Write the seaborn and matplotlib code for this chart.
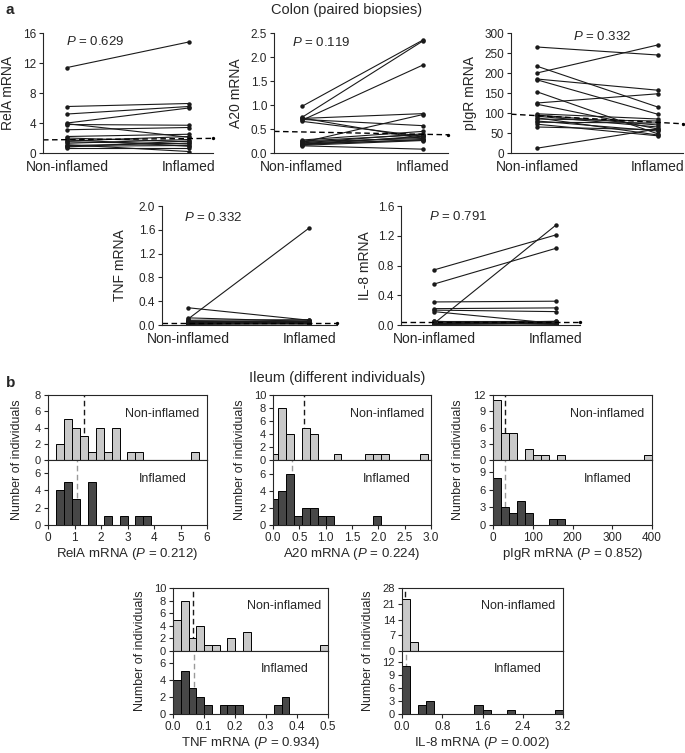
import numpy as np
import pandas as pd
import matplotlib
matplotlib.use("Agg")
import matplotlib.pyplot as plt
import seaborn as sns

# ================= Data: (a) colon, paired biopsies =================
pair_groups = ["Non-inflamed", "Inflamed"]

rela_non = [11.4, 6.2, 5.2, 4.0, 3.9, 3.8, 3.1, 2.2, 2.0, 1.8, 1.6, 1.5, 1.3, 1.1, 1.0, 0.9, 0.8, 0.7]
rela_inf = [14.8, 6.6, 6.2, 6.0, 2.1, 3.7, 3.4, 2.5, 1.5, 0.9, 2.2, 1.2, 1.8, 0.2, 1.3, 1.0, 1.6, 0.7]
rela_ref = [1.75, 1.95]

a20_non = [0.97, 0.74, 0.68, 0.72, 0.70, 0.66, 0.73, 0.27, 0.25, 0.22, 0.20, 0.18, 0.16, 0.15, 0.24, 0.17, 0.21, 0.19]
a20_inf = [2.35, 2.33, 1.83, 0.82, 0.57, 0.35, 0.30, 0.45, 0.38, 0.80, 0.33, 0.28, 0.26, 0.08, 0.30, 0.35, 0.40, 0.27]
a20_ref = [0.45, 0.38]

pigr_non = [265, 200, 217, 185, 183, 153, 125, 122, 98, 95, 92, 88, 85, 80, 77, 72, 65, 12]
pigr_inf = [245, 270, 115, 157, 97, 48, 148, 60, 85, 70, 65, 45, 80, 55, 75, 43, 58, 60]
pigr_ref = [97, 73]

tnf_non = [0.10, 0.29, 0.12, 0.08, 0.06, 0.05, 0.04, 0.04, 0.03, 0.03, 0.02, 0.02, 0.05, 0.06, 0.03, 0.01, 0.04, 0.07]
tnf_inf = [1.63, 0.08, 0.06, 0.09, 0.05, 0.04, 0.06, 0.03, 0.05, 0.02, 0.04, 0.03, 0.02, 0.07, 0.04, 0.02, 0.05, 0.03]
tnf_ref = [0.04, 0.04]

il8_non = [0.74, 0.55, 0.02, 0.31, 0.22, 0.20, 0.18, 0.05, 0.03, 0.02, 0.01, 0.04, 0.03, 0.01, 0.02, 0.05, 0.01, 0.03]
il8_inf = [1.21, 1.03, 1.34, 0.32, 0.23, 0.18, 0.02, 0.05, 0.03, 0.04, 0.02, 0.01, 0.03, 0.02, 0.05, 0.01, 0.04, 0.03]
il8_ref = [0.045, 0.045]

pvals_a = {"RelA": "0.629", "A20": "0.119", "pIgR": "0.332", "TNF": "0.332", "IL-8": "0.791"}

# ================= Data: (b) ileum, histogram counts per bin =================
# bins: first left edge, bin width; counts for non-inflamed / inflamed; medians
rela_bin0, rela_binw = 0.3, 0.3
rela_h_non = [2, 5, 4, 3, 1, 4, 1, 4, 0, 1, 1, 0, 0, 0, 0, 0, 0, 1]
rela_h_inf = [4, 5, 3, 0, 5, 0, 1, 0, 1, 0, 1, 1, 0, 0, 0, 0, 0, 0]
rela_med = [1.35, 1.08]

a20_bin0, a20_binw = -0.05, 0.15
a20_h_non = [1, 8, 4, 0, 5, 4, 0, 0, 1, 0, 0, 0, 1, 1, 1, 0, 0, 0, 0, 1]
a20_h_inf = [3, 4, 6, 1, 2, 2, 1, 1, 0, 0, 0, 0, 0, 1, 0, 0, 0, 0, 0, 0]
a20_med = [0.59, 0.37]

pigr_bin0, pigr_binw = 0, 20
pigr_h_non = [11, 5, 5, 0, 2, 1, 1, 0, 1, 0, 0, 0, 0, 0, 0, 0, 0, 0, 0, 1]
pigr_h_inf = [8, 3, 2, 4, 2, 0, 0, 1, 1, 0, 0, 0, 0, 0, 0, 0, 0, 0, 0, 0]
pigr_med = [29, 31]

tnf_bin0, tnf_binw = 0, 0.025
tnf_h_non = [5, 8, 2, 4, 1, 1, 0, 2, 0, 3, 0, 0, 0, 0, 0, 0, 0, 0, 0, 1]
tnf_h_inf = [4, 5, 3, 2, 1, 0, 1, 1, 1, 0, 0, 0, 0, 1, 2, 0, 0, 0, 0, 0]
tnf_med = [0.064, 0.069]

il8_bin0, il8_binw = 0, 0.16
il8_h_non = [23, 4, 0, 0, 0, 0, 0, 0, 0, 0, 0, 0, 0, 0, 0, 0, 0, 0, 0, 0]
il8_h_inf = [11, 0, 2, 3, 0, 0, 0, 0, 0, 2, 1, 0, 0, 1, 0, 0, 0, 0, 0, 1]
il8_med = [0.06, 0.08]

pvals_b = {"RelA": "0.212", "A20": "0.224", "pIgR": "0.852", "TNF": "0.934", "IL-8": "0.002"}

# ================= Style =================
sns.set_style("ticks")
plt.rcParams["font.family"] = ["Liberation Sans", "DejaVu Sans"]
plt.rcParams["mathtext.fontset"] = "custom"
plt.rcParams["mathtext.rm"] = "Liberation Sans"
plt.rcParams["mathtext.it"] = "Liberation Sans:italic"
plt.rcParams["axes.linewidth"] = 0.8

W, H = 685, 753
fig = plt.figure(figsize=(W / 100, H / 100), dpi=100)
fig.patch.set_facecolor("white")


def px_axes(left, top, right, bottom):
    return fig.add_axes([left / W, 1 - bottom / H, (right - left) / W, (bottom - top) / H])


LIGHT = "#c9c9c9"
DARK = "#474747"


def paired_panel(box, xlim, gene, non, inf, ref, yticks, yfmt, ptxt_pos, ylab_x):
    ax = px_axes(*box)
    n = len(non)
    df = pd.DataFrame({
        "patient": list(range(n)) * 2,
        "pos": [0] * n + [1] * n,
        "mRNA": list(non) + list(inf),
    })
    sns.lineplot(data=df, x="pos", y="mRNA", units="patient", estimator=None,
                 color="#1a1a1a", linewidth=0.8, marker="o", markersize=3.2,
                 markeredgewidth=0, legend=False, ax=ax)
    sns.lineplot(x=list(xlim), y=ref, color="black", linewidth=1.0,
                 linestyle=(0, (4, 2.5)), ax=ax)
    ax.plot(xlim[1], ref[1], "o", color="black", ms=2.4, mew=0, clip_on=False)
    ax.set_xlim(*xlim)
    ax.set_ylim(yticks[0], yticks[-1])
    ax.set_yticks(yticks)
    ax.set_yticklabels([yfmt.format(t) for t in yticks], fontsize=8.5)
    ax.set_xticks([0, 1])
    ax.set_xticklabels(pair_groups, fontsize=10)
    ax.tick_params(axis="x", length=0, pad=5)
    ax.tick_params(axis="y", length=3, width=0.8, pad=2)
    ax.set_xlabel("")
    ax.set_ylabel(f"{gene} mRNA", fontsize=10)
    ax.yaxis.set_label_coords(ylab_x, 0.5)
    sns.despine(ax=ax)
    ax.text(ptxt_pos[0], ptxt_pos[1], rf"$P$ = {pvals_a[gene]}", transform=ax.transAxes,
            ha="center", va="center", fontsize=9.5)
    return ax


def hist_panel(box, gene, bin0, binw, c_non, c_inf, med, xticks, xfmt,
               ytop, yt_top, ybot, yt_bot, ylab_x):
    left, top, right, bottom = box
    mid = (top + bottom) / 2
    ax_u = px_axes(left, top, right, mid)
    ax_l = px_axes(left, mid, right, bottom)
    edges = [bin0 + binw * i for i in range(len(c_non) + 1)]
    centers = [e + binw / 2 for e in edges[:-1]]
    for ax, counts, col, m, mcol, lab in [
        (ax_u, c_non, LIGHT, med[0], "#1a1a1a", "Non-inflamed"),
        (ax_l, c_inf, DARK, med[1], "#9a9a9a", "Inflamed"),
    ]:
        ax.axvline(m, color=mcol, linewidth=1.0, linestyle=(0, (4, 2.5)), zorder=0.5)
        hdf = pd.DataFrame({"mRNA": centers, "n": counts})
        sns.histplot(data=hdf, x="mRNA", weights="n", bins=edges, color=col, edgecolor="black",
                     linewidth=0.7, alpha=1, ax=ax, zorder=1)
        ax.set_xlim(xticks[0], xticks[-1])
        ax.set_ylabel("")
        ax.text(0.72, 0.71, lab, transform=ax.transAxes, ha="center", va="center", fontsize=9)
        for s in ax.spines.values():
            s.set_visible(True)
            s.set_linewidth(0.8)
        ax.tick_params(axis="y", length=3, width=0.8, pad=2, labelsize=8)
    ax_u.set_ylim(0, ytop)
    ax_u.set_yticks(yt_top)
    ax_u.set_xticks([])
    ax_u.set_xlabel("")
    ax_l.set_ylim(0, ybot)
    ax_l.set_yticks(yt_bot)
    ax_l.set_xticks(xticks)
    ax_l.set_xticklabels([xfmt.format(t) for t in xticks], fontsize=8.5)
    ax_l.tick_params(axis="x", length=3, width=0.8, pad=2)
    ax_l.set_xlabel(rf"{gene} mRNA ($P$ = {pvals_b[gene]})", fontsize=9.5, labelpad=1.5)
    fig.text(ylab_x / W, 1 - mid / H, "Number of individuals", rotation=90,
             ha="center", va="center", fontsize=9)


# ================= Panel a =================
fig.text(5 / W, 1 - 10 / H, "a", fontsize=11, fontweight="bold", ha="left", va="center")
fig.text(347 / W, 1 - 10 / H, "Colon (paired biopsies)", fontsize=10.5, ha="center", va="center")

paired_panel((43, 33, 213, 153), (-0.2, 1.2), "RelA", rela_non, rela_inf, rela_ref,
             [0, 4, 8, 12, 16], "{:g}", (0.31, 0.93), -0.165)
paired_panel((274, 33, 448, 153), (-0.23, 1.21), "A20", a20_non, a20_inf, a20_ref,
             [0, 0.5, 1.0, 1.5, 2.0, 2.5], "{:.1f}", (0.27, 0.92), -0.18)
paired_panel((511, 33, 683, 153), (-0.215, 1.21), "pIgR", pigr_non, pigr_inf, pigr_ref,
             [0, 50, 100, 150, 200, 250, 300], "{:g}", (0.53, 0.97), -0.2)
paired_panel((162, 206, 337, 325), (-0.215, 1.23), "TNF", tnf_non, tnf_inf, tnf_ref,
             [0, 0.4, 0.8, 1.2, 1.6, 2.0], "{:.1f}", (0.29, 0.9), -0.2)
paired_panel((401, 206, 580, 325), (-0.27, 1.2), "IL-8", il8_non, il8_inf, il8_ref,
             [0, 0.4, 0.8, 1.2, 1.6], "{:.1f}", (0.32, 0.91), -0.16)

# ================= Panel b =================
fig.text(6 / W, 1 - 383 / H, "b", fontsize=11, fontweight="bold", ha="left", va="center")
fig.text(337 / W, 1 - 378 / H, "Ileum (different individuals)", fontsize=10.5,
         ha="center", va="center")

hist_panel((48, 395, 207, 525), "RelA", rela_bin0, rela_binw, rela_h_non, rela_h_inf, rela_med,
           [0, 1, 2, 3, 4, 5, 6], "{:g}", 8, [0, 2, 4, 6, 8], 7.5, [0, 2, 4, 6], 17)
hist_panel((273, 395, 431, 525), "A20", a20_bin0, a20_binw, a20_h_non, a20_h_inf, a20_med,
           [0, 0.5, 1.0, 1.5, 2.0, 2.5, 3.0], "{:.1f}", 10, [0, 2, 4, 6, 8, 10], 7.6, [0, 2, 4, 6], 240)
hist_panel((493, 395, 652, 525), "pIgR", pigr_bin0, pigr_binw, pigr_h_non, pigr_h_inf, pigr_med,
           [0, 100, 200, 300, 400], "{:g}", 12, [0, 3, 6, 9, 12], 11, [0, 3, 6, 9], 458)
hist_panel((173, 588, 328, 714), "TNF", tnf_bin0, tnf_binw, tnf_h_non, tnf_h_inf, tnf_med,
           [0, 0.1, 0.2, 0.3, 0.4, 0.5], "{:.1f}", 10, [0, 2, 4, 6, 8, 10], 7.4, [0, 2, 4, 6], 140)
hist_panel((402, 588, 563, 714), "IL-8", il8_bin0, il8_binw, il8_h_non, il8_h_inf, il8_med,
           [0, 0.8, 1.6, 2.4, 3.2], "{:.1f}", 28, [0, 7, 14, 21, 28], 14.5, [0, 3, 6, 9, 12], 368)

fig.savefig("out.png", dpi=100, facecolor="white")
